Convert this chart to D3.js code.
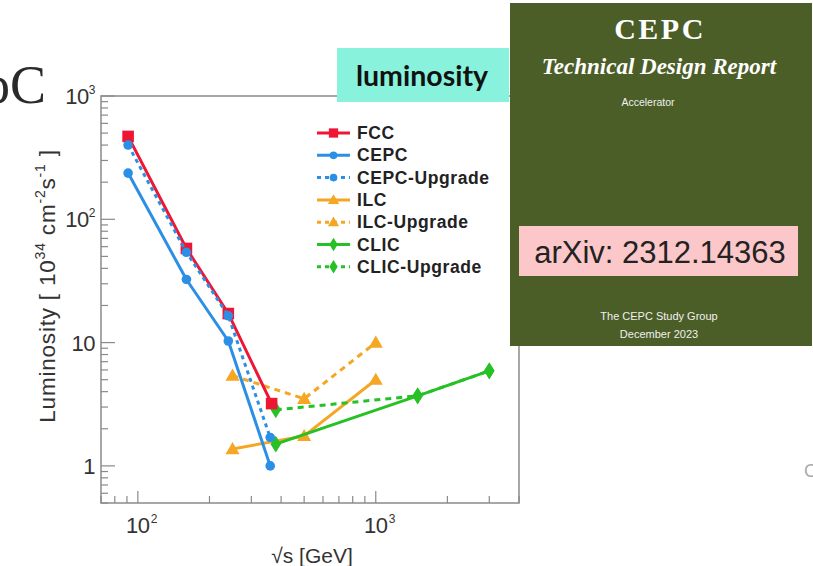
<!DOCTYPE html>
<html><head><meta charset="utf-8">
<script src="https://cdn.jsdelivr.net/npm/d3@7"></script>
<style>
html,body{margin:0;padding:0;background:#fff;}
svg{display:block;}
</style></head>
<body>
<script>
// ---- data ----
const fccE = [91, 160, 240, 365];
const fccL = [470, 58, 17.2, 3.2];
const cepcE = [91, 160, 240, 360];
const cepcL = [237, 32.5, 10.3, 1.0];
const cepcUpE = [91, 160, 240, 360];
const cepcUpL = [400, 54, 16.5, 1.7];
const ilcE = [250, 500, 1000];
const ilcL = [1.37, 1.75, 5.0];
const ilcUpE = [250, 500, 1000];
const ilcUpL = [5.4, 3.5, 10];
const clicE = [380, 1500, 3000];
const clicL = [1.5, 3.7, 5.9];
const clicUpE = [380, 1500, 3000];
const clicUpL = [2.85, 3.7, 5.9];
const seriesNames = ["FCC", "CEPC", "CEPC-Upgrade", "ILC", "ILC-Upgrade", "CLIC", "CLIC-Upgrade"];
const yTickExp = [3, 2, 1, 0];
const xTickExp = [2, 3];

const W = 813, H = 566;
const svg = d3.select("body").append("svg").attr("width", W).attr("height", H);

const x = d3.scaleLog().domain([70, 4000]).range([101, 519]);
const y = d3.scaleLog().domain([0.5, 1000]).range([503, 96]);

const colors = {FCC:"#ee1733", CEPC:"#2b8fe6", ILC:"#f5a623", CLIC:"#25c125"};
const series = [
  {name:"ILC-Upgrade", E:ilcUpE, L:ilcUpL, c:colors.ILC, dash:"6,5", m:"tri"},
  {name:"ILC", E:ilcE, L:ilcL, c:colors.ILC, dash:null, m:"tri"},
  {name:"CLIC-Upgrade", E:clicUpE, L:clicUpL, c:colors.CLIC, dash:"6,5", m:"dia"},
  {name:"CLIC", E:clicE, L:clicL, c:colors.CLIC, dash:null, m:"dia"},
  {name:"CEPC", E:cepcE, L:cepcL, c:colors.CEPC, dash:null, m:"circ"},
  {name:"FCC", E:fccE, L:fccL, c:colors.FCC, dash:null, m:"sq"},
  {name:"CEPC-Upgrade", E:cepcUpE, L:cepcUpL, c:colors.CEPC, dash:"4,4", m:"circ"},
];

// left fragment of text
svg.append("text").attr("x", 46).attr("y", 103).attr("text-anchor","end")
  .attr("font-family","Liberation Serif, serif").attr("font-size", 54).attr("fill","#2a2a2a").text("oC");

// frame
const g = svg.append("g");
g.append("rect").attr("x", 101).attr("y", 96).attr("width", 418).attr("height", 407)
  .attr("fill","none").attr("stroke","#8a8a8a").attr("stroke-width",1.5);

// y ticks
const yMajors = yTickExp.map(e => Math.pow(10, e));
const yMinors = [];
for (let e = -1; e < 3; e++) for (let k = 2; k <= 9; k++) { const v = k*Math.pow(10,e); if (v >= 0.5 && v < 1000) yMinors.push(v); }
g.selectAll(".ymin").data(yMinors).enter().append("line")
  .attr("x1",101).attr("x2",108).attr("y1",d=>y(d)).attr("y2",d=>y(d)).attr("stroke","#8a8a8a").attr("stroke-width",1.2);
g.selectAll(".ymaj").data(yMajors).enter().append("line")
  .attr("x1",101).attr("x2",115).attr("y1",d=>y(d)).attr("y2",d=>y(d)).attr("stroke","#8a8a8a").attr("stroke-width",1.2);
// x ticks
const xMajors = xTickExp.map(e => Math.pow(10, e));
const xMinors = [];
for (let e = 1; e < 4; e++) for (let k = 2; k <= 9; k++) { const v = k*Math.pow(10,e); if (v >= 70 && v <= 4000) xMinors.push(v); }
g.selectAll(".xmin").data(xMinors).enter().append("line")
  .attr("y1",503).attr("y2",496).attr("x1",d=>x(d)).attr("x2",d=>x(d)).attr("stroke","#8a8a8a").attr("stroke-width",1.2);
g.selectAll(".xmaj").data(xMajors).enter().append("line")
  .attr("y1",503).attr("y2",491).attr("x1",d=>x(d)).attr("x2",d=>x(d)).attr("stroke","#8a8a8a").attr("stroke-width",1.2);

// y tick labels
const font = "Liberation Sans, Arial, sans-serif";
yTickExp.forEach(e => {
  const t = g.append("text").attr("x", 95).attr("y", y(Math.pow(10,e)) + 8).attr("text-anchor","end")
    .attr("font-family", font).attr("font-size", 22).attr("fill","#333").attr("letter-spacing",-0.5);
  if (e >= 2) {
    t.append("tspan").text("10");
    t.append("tspan").attr("font-size", 12).attr("dy", -10).text(String(e));
  } else {
    t.text(e === 1 ? "10" : "1");
  }
});
// x tick labels
xTickExp.forEach(e => {
  const xv = x(Math.pow(10,e));
  g.append("text").attr("x", xv).attr("y", 533).attr("text-anchor","middle")
    .attr("font-family", font).attr("font-size", 22).attr("fill","#333").attr("letter-spacing",-0.5).text("10");
  g.append("text").attr("x", xv + 13).attr("y", 523).attr("font-family", font).attr("font-size", 12).attr("fill","#333").text(String(e));
});

// axis titles
const yt = svg.append("text").attr("transform","translate(55,286) rotate(-90)").attr("text-anchor","middle")
  .attr("font-family", font).attr("font-size", 22.5).attr("letter-spacing", 0.8).attr("fill","#333");
yt.append("tspan").text("Luminosity [ 10");
yt.append("tspan").attr("font-size",14).attr("dy",-10).text("34");
yt.append("tspan").attr("dy",10).text(" cm");
yt.append("tspan").attr("font-size",14).attr("dy",-10).text("-2");
yt.append("tspan").attr("dy",10).text("s");
yt.append("tspan").attr("font-size",14).attr("dy",-10).text("-1");
yt.append("tspan").attr("dy",10).text(" ]");

svg.append("text").attr("x", 312).attr("y", 563).attr("text-anchor","middle")
  .attr("font-family", font).attr("font-size", 21).attr("fill","#333").text("\u221As [GeV]");

// series
const line = d3.line().x(d=>x(d[0])).y(d=>y(d[1]));
function marker(sel, type, c, s) {
  if (type === "sq") return sel.append("rect").attr("x",-s).attr("y",-s).attr("width",2*s).attr("height",2*s).attr("fill",c);
  if (type === "circ") return sel.append("circle").attr("r", s).attr("fill", c);
  if (type === "tri") return sel.append("path").attr("d", `M0,${-s*1.1}L${s*1.1},${s*0.8}L${-s*1.1},${s*0.8}Z`).attr("fill",c);
  if (type === "dia") return sel.append("path").attr("d", `M0,${-s*1.3}L${s*0.8},0L0,${s*1.3}L${-s*0.8},0Z`).attr("fill",c);
}
const msize = {sq:5.8, circ:4.8, tri:6.4, dia:6.5};
series.forEach(s => {
  const pts = s.E.map((e,i)=>[e, s.L[i]]);
  g.append("path").attr("d", line(pts)).attr("fill","none").attr("stroke", s.c).attr("stroke-width", 3)
    .attr("stroke-dasharray", s.dash).attr("stroke-linejoin","round");
  pts.forEach(p => {
    const mg = g.append("g").attr("transform", `translate(${x(p[0])},${y(p[1])})`);
    marker(mg, s.m, s.c, msize[s.m]);
  });
});

// legend
const legendOrder = [
  {name:"FCC", c:colors.FCC, dash:null, m:"sq"},
  {name:"CEPC", c:colors.CEPC, dash:null, m:"circ"},
  {name:"CEPC-Upgrade", c:colors.CEPC, dash:"4,4", m:"circ"},
  {name:"ILC", c:colors.ILC, dash:null, m:"tri"},
  {name:"ILC-Upgrade", c:colors.ILC, dash:"4,4", m:"tri"},
  {name:"CLIC", c:colors.CLIC, dash:null, m:"dia"},
  {name:"CLIC-Upgrade", c:colors.CLIC, dash:"4,4", m:"dia"},
];
legendOrder.forEach((s,i) => {
  const ly = 133 + i*22.3;
  const lg = svg.append("g");
  lg.append("line").attr("x1",317).attr("x2",350).attr("y1",ly).attr("y2",ly).attr("stroke",s.c).attr("stroke-width",3).attr("stroke-dasharray", s.dash);
  const mg = lg.append("g").attr("transform",`translate(333.5,${ly})`);
  marker(mg, s.m, s.c, msize[s.m]*0.8);
  lg.append("text").attr("x",357).attr("y",ly+6).attr("font-family",font).attr("font-weight","bold")
    .attr("font-size",17.5).attr("letter-spacing",0.6).attr("fill","#222").text(s.name);
});

// luminosity box
svg.append("rect").attr("x",337).attr("y",48).attr("width",172).attr("height",54).attr("fill","#88f2dc");
svg.append("text").attr("x",422).attr("y",86).attr("text-anchor","middle").attr("font-family","Lato, sans-serif")
  .attr("font-weight","bold").attr("font-size",28.5).attr("fill","#111").text("luminosity");

// cover
const cv = svg.append("g");
cv.append("rect").attr("x",510).attr("y",3).attr("width",302).attr("height",343).attr("fill","#4b5e27");
cv.append("text").attr("x",660).attr("y",39).attr("text-anchor","middle").attr("font-family","Liberation Serif, serif")
  .attr("font-weight","bold").attr("font-size",30).attr("letter-spacing",2.5).attr("fill","#fff").text("CEPC");
cv.append("text").attr("x",659).attr("y",74).attr("text-anchor","middle").attr("font-family","Liberation Serif, serif")
  .attr("font-weight","bold").attr("font-style","italic").attr("font-size",23).attr("fill","#fff").text("Technical Design Report");
cv.append("text").attr("x",648).attr("y",106).attr("text-anchor","middle").attr("font-family",font)
  .attr("font-size",10.5).attr("fill","#f0f0f0").text("Accelerator");
cv.append("rect").attr("x",519).attr("y",226).attr("width",279).attr("height",50).attr("fill","#fbc7c9");
cv.append("text").attr("x",660).attr("y",263).attr("text-anchor","middle").attr("font-family",font)
  .attr("font-size",31).attr("fill","#222").text("arXiv: 2312.14363");
cv.append("text").attr("x",659).attr("y",320).attr("text-anchor","middle").attr("font-family",font)
  .attr("font-size",11).attr("fill","#f0f0f0").text("The CEPC Study Group");
cv.append("text").attr("x",659).attr("y",338).attr("text-anchor","middle").attr("font-family",font)
  .attr("font-size",11).attr("fill","#f0f0f0").text("December 2023");

// small gray fragment at right
svg.append("text").attr("x",804).attr("y",477).attr("font-family",font).attr("font-size",18).attr("fill","#aaa").text("C");
</script>
</body></html>
